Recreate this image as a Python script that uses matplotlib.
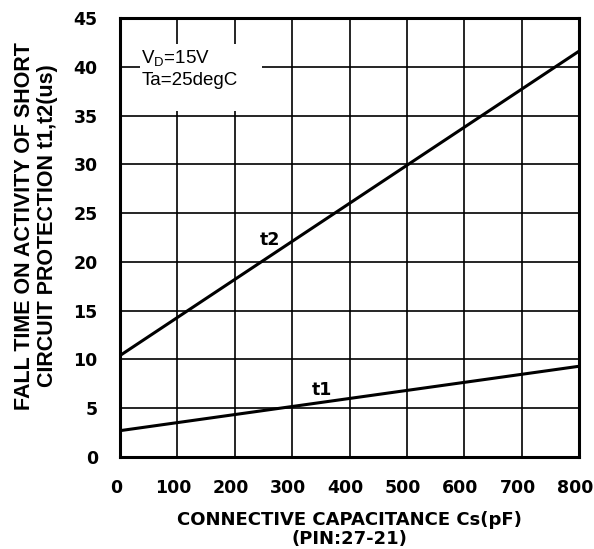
import numpy as np
import matplotlib.pyplot as plt
import matplotlib.transforms as mtransforms
from matplotlib.patches import Rectangle

# Fall time vs. connective capacitance (end points of the straight lines)
cap_pf = [0, 800]
t1_us = [2.7, 9.3]
t2_us = [10.4, 41.6]

x_ticks = list(range(0, 900, 100))
y_ticks = list(range(0, 50, 5))


def main():
    plt.rcParams["font.family"] = ["Liberation Sans", "DejaVu Sans"]

    fig = plt.figure(figsize=(5.94, 5.49), dpi=100)
    ax = fig.add_axes([120 / 594, 1 - 457 / 549, 459 / 594, 439 / 549])

    ax.plot(cap_pf, t2_us, color="black", lw=2.2, zorder=3)
    ax.plot(cap_pf, t1_us, color="black", lw=2.2, zorder=3)

    ax.set_xlim(0, 800)
    ax.set_ylim(0, 45)
    ax.set_xticks(x_ticks)
    ax.set_yticks(y_ticks)
    ax.grid(True, color="black", lw=1.2, zorder=1)
    ax.tick_params(length=0, pad=16, labelsize=12.5)
    for lbl in ax.get_xticklabels() + ax.get_yticklabels():
        lbl.set_fontweight("bold")
        lbl.set_family("DejaVu Sans")
    # nudge the x tick labels a little to the left
    shift = mtransforms.ScaledTranslation(-4 / 100, 0, fig.dpi_scale_trans)
    for lbl in ax.get_xticklabels():
        lbl.set_transform(lbl.get_transform() + shift)
    for sp in ax.spines.values():
        sp.set_linewidth(2.2)

    ax.set_xlabel("CONNECTIVE CAPACITANCE Cs(pF)\n(PIN:27-21)",
                  fontsize=13, fontweight="bold", family="DejaVu Sans",
                  linespacing=1.1)
    ax.xaxis.set_label_coords(0.5, -0.122)
    ax.set_ylabel("FALL TIME ON ACTIVITY OF SHORT\nCIRCUIT PROTECTION t1,t2(us)",
                  fontsize=15.5, fontweight="bold", linespacing=1.08)
    ax.yaxis.set_label_coords(-0.136, 0.527)

    # Curve names
    ax.text(262, 22.2, "t2", fontsize=12.5, fontweight="bold",
            family="DejaVu Sans", ha="center", va="center")
    ax.text(352, 6.9, "t1", fontsize=12.5, fontweight="bold",
            family="DejaVu Sans", ha="center", va="center")

    # Test conditions, on a white patch that hides the grid
    ax.add_patch(Rectangle((35, 35.5), 212, 6.8, fc="white", ec="none", zorder=2))
    ax.text(37, 39.8, "V$_{\\mathregular{D}}$=15V\nTa=25degC", fontsize=13.5,
            ha="left", va="center", linespacing=1.25, zorder=4)

    fig.savefig("out.png", dpi=100)


if __name__ == "__main__":
    main()
